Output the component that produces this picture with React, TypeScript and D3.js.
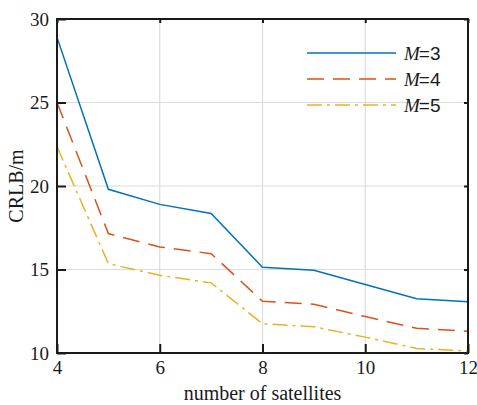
import React, { useEffect, useRef } from "react";
import * as d3 from "d3";

const satellites = [4, 5, 6, 7, 8, 9, 10, 11, 12];
const crlbM3 = [28.9, 19.8, 18.9, 18.35, 15.13, 14.95, 14.1, 13.25, 13.07];
const crlbM4 = [25.0, 17.15, 16.35, 15.95, 13.1, 12.92, 12.18, 11.48, 11.3];
const crlbM5 = [22.35, 15.35, 14.65, 14.2, 11.75, 11.57, 10.95, 10.27, 10.12];
const seriesNames = ["3", "4", "5"];
const xTicks = [4, 6, 8, 10, 12];
const yTicks = [10, 15, 20, 25, 30];

const App = () => {
  const ref = useRef<SVGSVGElement | null>(null);
  const width = 477,
    height = 405;
  const margin = { left: 57, top: 19, right: 9, bottom: 52 };

  useEffect(() => {
    const svg = d3.select(ref.current);
    svg.selectAll("*").remove();

    const x0 = margin.left,
      x1 = width - margin.right,
      y0 = height - margin.bottom,
      y1 = margin.top;

    const xScale = d3.scaleLinear().domain([4, 12]).range([x0, x1]);
    const yScale = d3.scaleLinear().domain([10, 30]).range([y0, y1]);

    const serif = "Liberation Serif, Times New Roman, serif";
    const axisColor = "#1a1a1a";
    const gridColor = "#dcdcdc";

    // grid
    const grid = svg.append("g");
    grid
      .selectAll("line.gx")
      .data(xTicks.slice(1, -1))
      .enter()
      .append("line")
      .attr("x1", (d) => xScale(d))
      .attr("x2", (d) => xScale(d))
      .attr("y1", y1)
      .attr("y2", y0)
      .attr("stroke", gridColor)
      .attr("stroke-width", 1.2);
    grid
      .selectAll("line.gy")
      .data(yTicks.slice(1, -1))
      .enter()
      .append("line")
      .attr("y1", (d) => yScale(d))
      .attr("y2", (d) => yScale(d))
      .attr("x1", x0)
      .attr("x2", x1)
      .attr("stroke", gridColor)
      .attr("stroke-width", 1.2);

    // series
    const colors = ["#0072BD", "#D95319", "#EDB120"];
    const dashes = ["none", "17,9", "15,5,3,5"];
    const allSeries = [crlbM3, crlbM4, crlbM5];
    const line = d3
      .line<number>()
      .x((d, i) => xScale(satellites[i]))
      .y((d) => yScale(d));

    svg
      .selectAll("path.seris")
      .data(allSeries)
      .enter()
      .append("path")
      .attr("class", "seris")
      .attr("d", (d) => line(d))
      .attr("fill", "none")
      .attr("stroke", (d, i) => colors[i])
      .attr("stroke-width", 1.5)
      .attr("stroke-dasharray", (d, i) => dashes[i]);

    // box + ticks
    const axes = svg.append("g");
    axes
      .append("rect")
      .attr("x", x0)
      .attr("y", y1)
      .attr("width", x1 - x0)
      .attr("height", y0 - y1)
      .attr("fill", "none")
      .attr("stroke", axisColor)
      .attr("stroke-width", 2);

    const xAxis = axes
      .append("g")
      .attr("transform", `translate(0, ${y0})`)
      .call(d3.axisBottom(xScale).tickValues(xTicks).tickSizeInner(-9).tickSizeOuter(0).tickPadding(8));
    const yAxis = axes
      .append("g")
      .attr("transform", `translate(${x0}, 0)`)
      .call(d3.axisLeft(yScale).tickValues(yTicks).tickSizeInner(-9).tickSizeOuter(0).tickPadding(8));
    axes
      .append("g")
      .attr("transform", `translate(0, ${y1})`)
      .call(d3.axisTop(xScale).tickValues(xTicks).tickSizeInner(-4).tickSizeOuter(0).tickFormat(() => ""));
    axes
      .append("g")
      .attr("transform", `translate(${x1}, 0)`)
      .call(d3.axisRight(yScale).tickValues(yTicks).tickSizeInner(-4).tickSizeOuter(0).tickFormat(() => ""));

    axes.selectAll(".domain").remove();
    axes.selectAll(".tick line").attr("stroke", axisColor).attr("stroke-width", 2);
    [xAxis, yAxis].forEach((ax) => {
      ax.attr("font-family", serif).attr("font-size", 19);
      ax.selectAll(".tick text").attr("fill", axisColor);
    });

    // labels
    svg
      .append("text")
      .attr("x", (x0 + x1) / 2)
      .attr("y", 400)
      .attr("text-anchor", "middle")
      .attr("font-family", serif)
      .attr("font-size", 20)
      .attr("fill", axisColor)
      .text("number of satellites");
    svg
      .append("text")
      .attr("transform", `translate(23, ${(y0 + y1) / 2}) rotate(-90)`)
      .attr("text-anchor", "middle")
      .attr("font-family", serif)
      .attr("font-size", 20)
      .attr("fill", axisColor)
      .text("CRLB/m");

    // legend
    const legend = svg
      .selectAll("g.legend")
      .data(seriesNames)
      .enter()
      .append("g")
      .attr("class", "legend")
      .attr("transform", (d, i) => `translate(307, ${53 + i * 26})`);
    legend
      .append("line")
      .attr("x1", 0)
      .attr("x2", 89)
      .attr("stroke", (d, i) => colors[i])
      .attr("stroke-width", 1.5)
      .attr("stroke-dasharray", (d, i) => dashes[i]);
    const lt = legend
      .append("text")
      .attr("x", 97)
      .attr("y", 7)
      .attr("fill", axisColor)
      .attr("font-size", 19);
    lt.append("tspan").attr("font-family", serif).attr("font-style", "italic").text("M");
    lt.append("tspan")
      .attr("font-family", "Liberation Sans, Arial, sans-serif")
      .attr("dx", -1)
      .text((d) => "=" + d);
  }, []);

  return (
    <svg
      ref={ref}
      width={width}
      height={height}
      style={{ position: "absolute", left: 0, top: 0, background: "#fff" }}
    />
  );
};

export default App;
